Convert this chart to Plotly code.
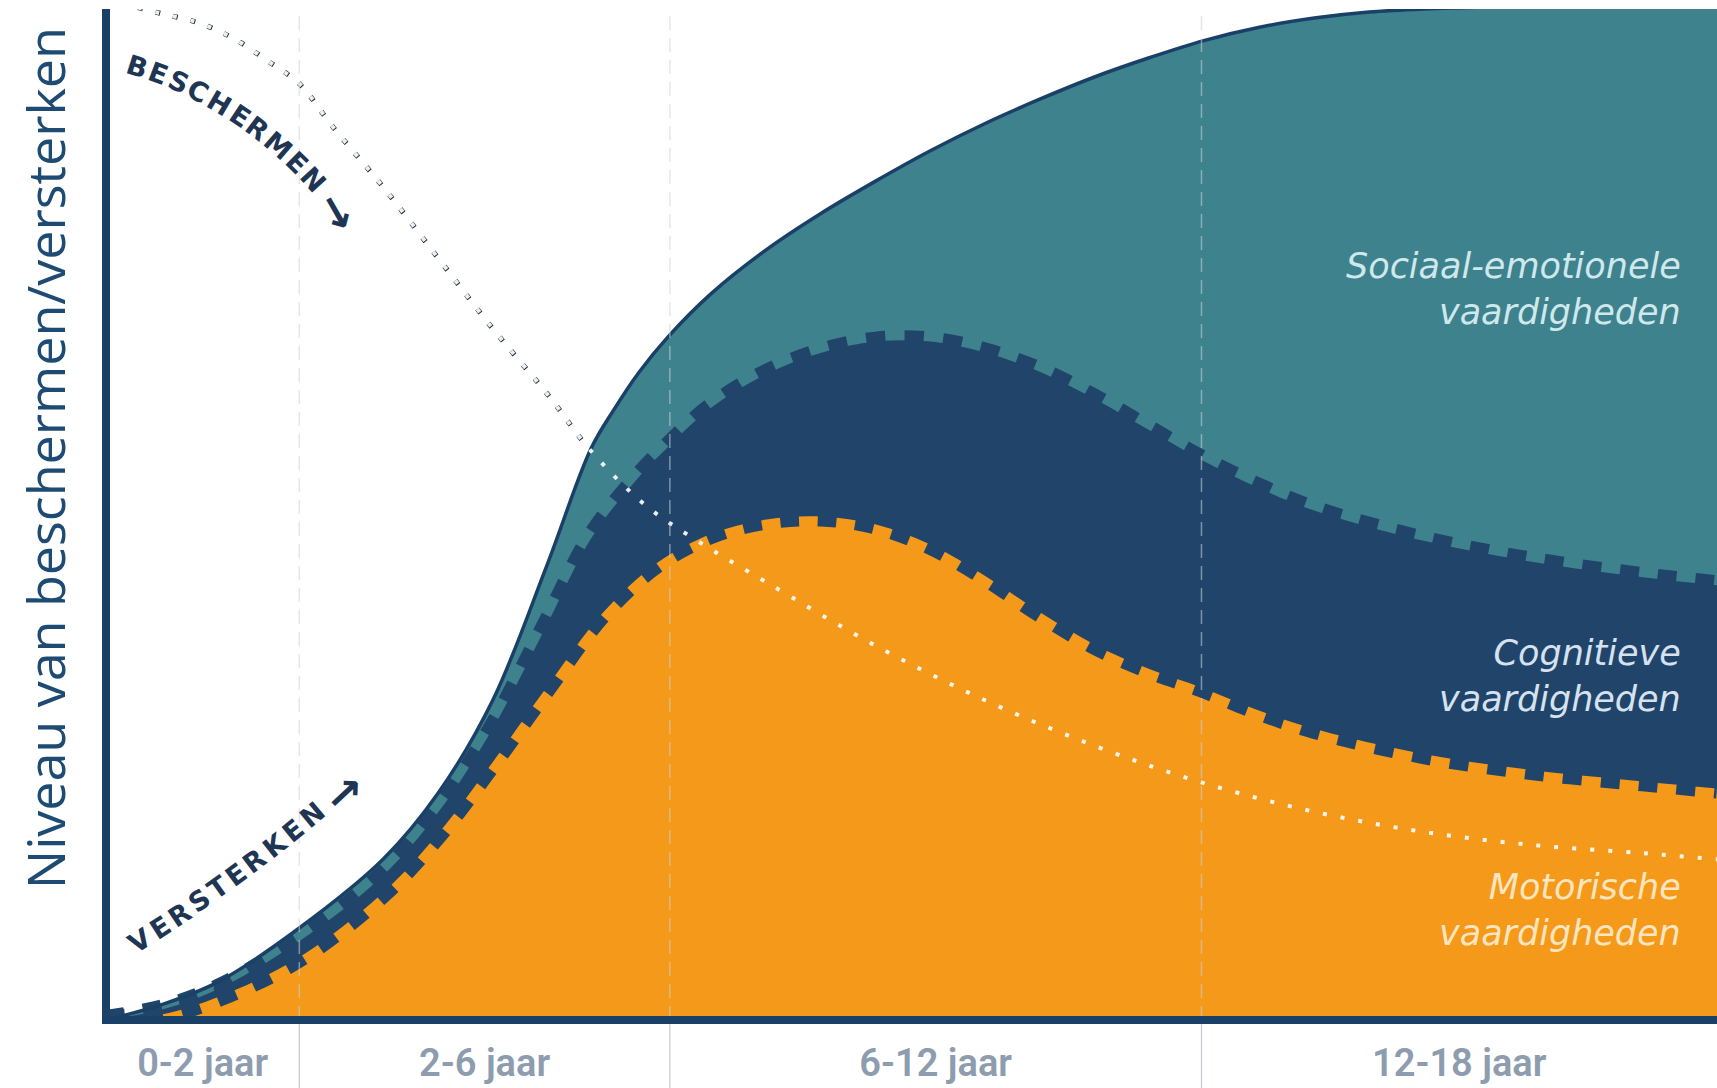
import math
import plotly.graph_objects as go

# ---------------- data (timeline units 0..100 across the four age bands) -------------
band_edges = [0, 12, 35, 68, 100]
band_labels = ["0-2 jaar", "2-6 jaar", "6-12 jaar", "12-18 jaar"]

# Sociaal-emotionele vaardigheden (outer envelope)
x_social = [0, 3.6, 7.0, 12.0, 17.2, 20.6, 24.0, 27.4, 30.1, 31.5, 33.1, 34.9, 37.6, 41.0,
            44.4, 47.8, 51.2, 54.6, 58.0, 61.4, 64.8, 68.2, 71.6, 75.0, 78.4, 81.8, 88.6, 100]
y_social = [0, 1.6, 3.8, 9.1, 15.9, 22.4, 31.6, 45.1, 56.5, 60.3, 64.1, 67.6, 71.9, 76.2,
            79.8, 83.0, 86.0, 88.7, 91.1, 93.3, 95.2, 96.9, 98.2, 99.1, 99.7, 100.0, 100.3, 100.5]

# Cognitieve vaardigheden
x_cognitive = [0, 3.6, 7.0, 12.0, 17.2, 20.6, 24.0, 27.4, 30.1, 32.8, 34.9, 37.6, 41.0,
               44.4, 47.8, 51.2, 54.6, 58.0, 61.4, 64.8, 68.0, 71.6, 75.0, 81.8, 88.6, 95.4, 100]
y_cognitive = [0, 1.1, 3.1, 7.8, 14.3, 20.5, 28.8, 39.2, 47.6, 53.2, 56.7, 60.6, 63.9,
               66.0, 67.1, 67.1, 66.0, 64.1, 61.4, 58.3, 55.4, 52.6, 50.4, 47.4, 45.3, 43.8, 43.0]

# Motorische vaardigheden
x_motor = [0, 3.6, 7.0, 12.0, 17.2, 20.6, 24.0, 27.4, 30.8, 34.2, 37.6, 41.0, 44.4,
           47.8, 51.2, 54.6, 58.0, 61.4, 64.8, 68.0, 71.6, 75.0, 81.8, 88.6, 95.4, 100]
y_motor = [0, 0.6, 2.3, 6.2, 12.6, 18.4, 25.5, 33.0, 40.2, 45.2, 48.1, 49.5, 49.8,
           49.0, 47.0, 43.9, 40.3, 37.1, 34.7, 32.9, 30.6, 28.8, 26.3, 24.7, 23.6, 22.9]

# Beschermen (dotted, declining)
x_protect = [0.9, 3.3, 5.8, 7.9, 10.0, 12.0, 14.1, 17.2, 20.6, 24.0, 27.4, 30.1, 33.5,
             36.9, 41.0, 47.8, 54.6, 61.4, 68.0, 75.0, 81.8, 88.6, 95.4, 100]
y_protect = [100.6, 99.6, 98.6, 97.1, 94.9, 92.6, 88.3, 82.4, 75.4, 68.4, 61.9, 56.3, 50.9,
             47.2, 43.3, 37.0, 31.6, 27.1, 23.5, 20.6, 18.6, 17.3, 16.5, 15.9]

series_labels = ["Sociaal-emotionele<br>vaardigheden", "Cognitieve<br>vaardigheden",
                 "Motorische<br>vaardigheden"]
label_y = [72.3, 34.0, 10.9]
y_title = "Niveau van beschermen/versterken"

# ---------------- style ----------------
W, H = 1717, 1088
ML, MR, MT, MB = 106, 0, 9, 68
TEAL = "#3e828d"
NAVY = "#21456a"
ORANGE = "#f4991a"
AXIS = "#1b4068"
INK = "#1e3553"
XMIN, XMAX, YMIN, YMAX = 0, 100, 0, 100
PW, PH = W - ML - MR, H - MT - MB


def px_to_x(px):
    return XMIN + (px - ML) / PW * (XMAX - XMIN)


def py_to_y(py):
    return YMIN + (H - MB - py) / PH * (YMAX - YMIN)


fig = go.Figure()

# dark dots of the "beschermen" line (visible on white only)
fig.add_trace(go.Scatter(x=x_protect, y=y_protect, mode="lines", line_shape="spline",
                         line=dict(color="#1c2836", width=5, dash="5px,13px"),
                         hoverinfo="skip", showlegend=False))
# filled areas
fig.add_trace(go.Scatter(x=x_social, y=y_social, mode="lines", line_shape="spline",
                         fill="tozeroy", fillcolor=TEAL, line=dict(width=0, color=TEAL),
                         hoverinfo="skip", showlegend=False))
fig.add_trace(go.Scatter(x=x_cognitive, y=y_cognitive, mode="lines", line_shape="spline",
                         fill="tozeroy", fillcolor=NAVY, line=dict(width=0, color=NAVY),
                         hoverinfo="skip", showlegend=False))
# crenellated edge of cognitive area
fig.add_trace(go.Scatter(x=x_cognitive, y=y_cognitive, mode="lines", line_shape="spline",
                         line=dict(color=NAVY, width=20, dash="19px,19px"),
                         hoverinfo="skip", showlegend=False))
fig.add_trace(go.Scatter(x=x_motor, y=y_motor, mode="lines", line_shape="spline",
                         fill="tozeroy", fillcolor=ORANGE, line=dict(width=0, color=ORANGE),
                         hoverinfo="skip", showlegend=False))
# crenellated edge of motor area
fig.add_trace(go.Scatter(x=x_motor, y=y_motor, mode="lines", line_shape="spline",
                         line=dict(color=NAVY, width=20, dash="19px,19px"),
                         hoverinfo="skip", showlegend=False))
# thin outline of the outer envelope
fig.add_trace(go.Scatter(x=x_social, y=y_social, mode="lines", line_shape="spline",
                         line=dict(color=AXIS, width=3.5),
                         hoverinfo="skip", showlegend=False))
# white dots of the "beschermen" line (visible on coloured areas)
fig.add_trace(go.Scatter(x=x_protect, y=y_protect, mode="lines", line_shape="spline",
                         line=dict(color="rgba(255,255,255,0.92)", width=4, dash="4px,14px"),
                         hoverinfo="skip", showlegend=False))

shapes = []
for e in band_edges[1:-1]:
    xp = (e - XMIN) / (XMAX - XMIN)
    shapes.append(dict(type="line", xref="paper", yref="paper", x0=xp, x1=xp, y0=0, y1=1,
                       line=dict(color="rgba(205,210,215,0.55)", width=1.5, dash="14px,8px"),
                       layer="above"))
    shapes.append(dict(type="line", xref="paper", yref="paper", x0=xp, x1=xp,
                       y0=-MB / PH, y1=0, line=dict(color="#c3c9d0", width=1.2), layer="above"))
# axes
shapes.append(dict(type="line", xref="paper", yref="paper", x0=0, x1=0, y0=-4 / PH, y1=1,
                   line=dict(color=AXIS, width=8), layer="above"))
shapes.append(dict(type="line", xref="paper", yref="paper", x0=-4 / PW, x1=1, y0=0, y1=0,
                   line=dict(color=AXIS, width=8), layer="above"))

annotations = []
label_colors = ["#cfe8ec", "#d6e2ef", "#fde5bf"]
for txt, yy, col in zip(series_labels, label_y, label_colors):
    annotations.append(dict(text=txt, x=px_to_x(1683), y=yy, xref="x", yref="y",
                            xanchor="right", yanchor="middle", align="right", showarrow=False,
                            font=dict(family="DejaVu Sans", size=35, color=col,
                                      style="italic", weight=200)))

annotations.append(dict(text=y_title, x=(44 - ML) / PW, y=(H - MB - 458) / PH,
                        xref="paper", yref="paper", textangle=-90, showarrow=False,
                        xanchor="center", yanchor="middle",
                        font=dict(family="Open Sans", size=52, color="#1e4b73")))

WIDTHS = {"B": .70, "E": .62, "S": .64, "C": .68, "H": .76, "R": .68, "M": .88,
          "N": .78, "V": .72, "T": .62, "K": .70}


def arc_letters(word, center, radius, a0, a1, mode):
    ws = [WIDTHS[c] for c in word]
    cum = [ws[0] / 2]
    for i in range(1, len(ws)):
        cum.append(cum[-1] + (ws[i - 1] + ws[i]) / 2)
    out = []
    for ch, c in zip(word, cum):
        t = (c - cum[0]) / (cum[-1] - cum[0])
        ang = a0 + (a1 - a0) * t
        r = math.radians(ang)
        if mode == "outer":
            px = center[0] + radius * math.sin(r)
            py = center[1] - radius * math.cos(r)
            rot = ang
        else:
            px = center[0] + radius * math.cos(r)
            py = center[1] + radius * math.sin(r)
            rot = ang - 90
        out.append(dict(text=ch, x=px_to_x(px), y=py_to_y(py), xref="x", yref="y",
                        textangle=rot, showarrow=False, xanchor="center", yanchor="middle",
                        font=dict(family="DejaVu Sans", size=27, color=INK, weight=700)))
    return out


annotations += arc_letters("BESCHERMEN", (17, 448), 400, 17.5, 47.8, "outer")
annotations += arc_letters("VERSTERKEN", (-672, -359), 1532, 58, 50, "inner")
annotations.append(dict(text="→", x=px_to_x(338), y=py_to_y(211), xref="x", yref="y",
                        textangle=60, showarrow=False,
                        font=dict(family="DejaVu Sans", size=44, color=INK, weight=700)))
annotations.append(dict(text="→", x=px_to_x(343), y=py_to_y(792), xref="x", yref="y",
                        textangle=-43, showarrow=False,
                        font=dict(family="DejaVu Sans", size=44, color=INK, weight=700)))

fig.update_layout(
    width=W, height=H,
    margin=dict(l=ML, r=MR, t=MT, b=MB),
    paper_bgcolor="white", plot_bgcolor="white",
    shapes=shapes, annotations=annotations,
    xaxis=dict(range=[XMIN, XMAX], showgrid=False, zeroline=False, showline=False,
               tickmode="array",
               tickvals=[(band_edges[i] + band_edges[i + 1]) / 2 for i in range(4)],
               ticktext=band_labels, ticks="", ticklabelstandoff=17,
               tickfont=dict(family="Roboto", size=38, color="#8d9cae", weight=600),
               fixedrange=True),
    yaxis=dict(range=[YMIN, YMAX], showgrid=False, zeroline=False, showline=False,
               showticklabels=False, fixedrange=True),
)

fig.write_html("out.html")
